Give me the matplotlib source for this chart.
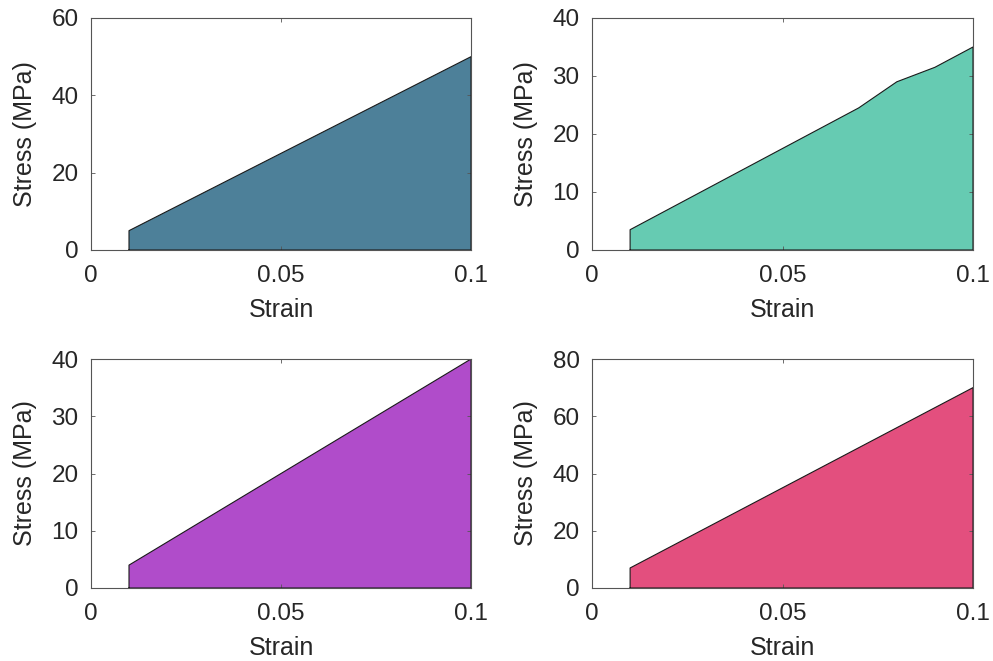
import numpy as np
import matplotlib as mpl
mpl.use('Agg')
import matplotlib.pyplot as plt

plt.rcParams['font.family'] = ['Liberation Sans', 'DejaVu Sans']

# ========== Data ==========
strain = [0.01, 0.02, 0.03, 0.04, 0.05, 0.06, 0.07, 0.08, 0.09, 0.10]

stress_a = [5, 10, 15, 20, 25, 30, 35, 40, 45, 50]
stress_b = [3.5, 7, 10.5, 14, 17.5, 21, 24.5, 29, 31.5, 35]
stress_c = [4, 8, 12, 16, 20, 24, 28, 32, 36, 40]
stress_d = [7, 14, 21, 28, 35, 42, 49, 56, 63, 70]

colors = ['#4d8099', '#66cbb2', '#b04cca', '#e34f7e']
ylims = [60, 40, 40, 80]
yticks = [[0, 20, 40, 60], [0, 10, 20, 30, 40], [0, 10, 20, 30, 40], [0, 20, 40, 60, 80]]
xticks = [0, 0.05, 0.1]
xticklabels = ['0', '0.05', '0.1']

# axes positions in pixels (left, top, right, bottom)
W, H = 993, 661
boxes = [
    (91, 18, 471, 250),
    (592, 18, 973, 250),
    (91, 359, 471, 588),
    (592, 359, 973, 588),
]

text_col = '#262626'
spine_col = '#555555'

fig = plt.figure(figsize=(W / 100, H / 100), dpi=100)

for i, stress in enumerate([stress_a, stress_b, stress_c, stress_d]):
    x0, y0, x1, y1 = boxes[i]
    ax = fig.add_axes([x0 / W, 1 - y1 / H, (x1 - x0) / W, (y1 - y0) / H])
    ax.fill_between(strain, 0, stress, facecolor=colors[i], edgecolor='none')
    # outline like matlab area()
    xs = [strain[0]] + strain + [strain[-1], strain[0]]
    ys = [0] + stress + [0, 0]
    ax.plot(xs, ys, color='#1a1a1a', lw=0.8)
    ax.set_xlim(0, 0.1)
    ax.set_ylim(0, ylims[i])
    ax.set_xticks(xticks)
    ax.set_xticklabels(xticklabels)
    ax.set_yticks(yticks[i])
    ax.tick_params(direction='in', length=3, width=0.6, top=True, right=True,
                   labelsize=17.5, colors=spine_col, labelcolor=text_col)
    ax.tick_params(axis='x', pad=11)
    ax.tick_params(axis='y', pad=9)
    for s in ax.spines.values():
        s.set_color(spine_col)
        s.set_linewidth(0.8)
    ax.set_xlabel('Strain', fontsize=18, color=text_col, labelpad=8)
    ax.set_ylabel('Stress (MPa)', fontsize=18, color=text_col, labelpad=10)

plt.savefig('out.png', dpi=100)
